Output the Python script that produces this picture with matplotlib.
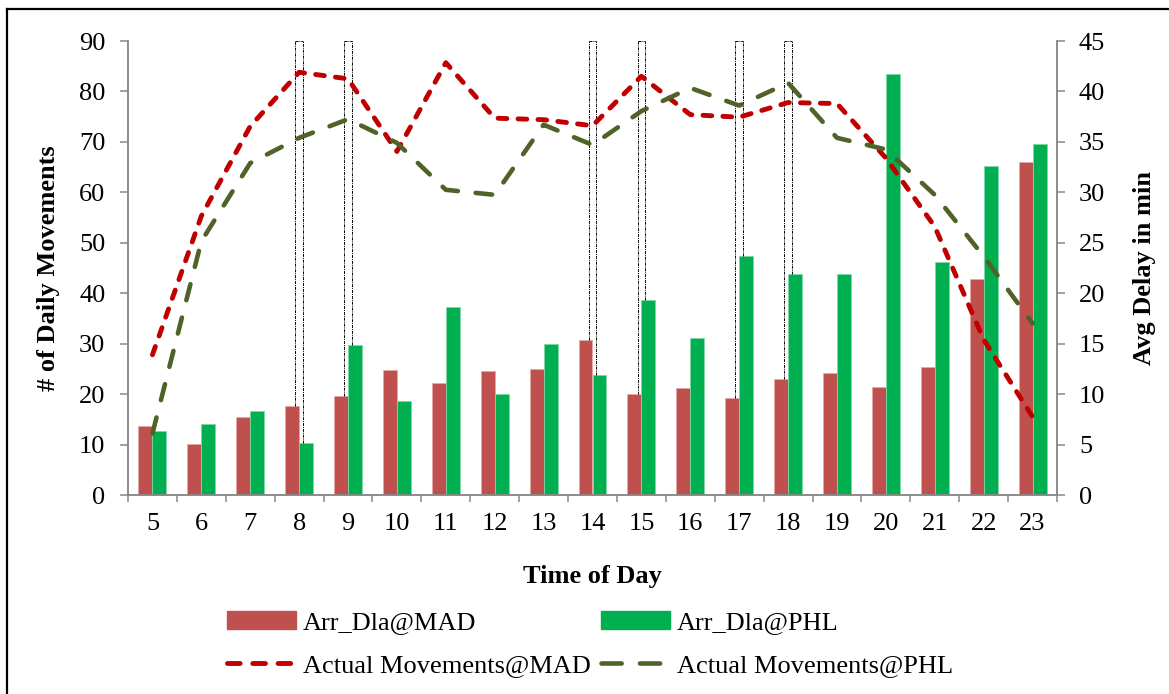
import matplotlib
matplotlib.use("Agg")
import matplotlib.pyplot as plt
from matplotlib.lines import Line2D
from matplotlib.patches import Patch

# data
hours = list(range(5, 24))
delay_mad = [6.8, 5.1, 7.7, 8.8, 9.8, 12.4, 11.1, 12.3, 12.5, 15.4, 10.0, 10.6, 9.6, 11.5, 12.1, 10.7, 12.7, 21.4, 33.0]
delay_phl = [6.3, 7.0, 8.3, 5.2, 14.9, 9.3, 18.6, 10.0, 15.0, 11.9, 19.3, 15.6, 23.7, 21.9, 21.9, 41.7, 23.1, 32.6, 34.8]
moves_mad = [27.8, 55.3, 73.1, 83.8, 82.5, 68.1, 85.7, 74.7, 74.4, 73.2, 83.0, 75.4, 74.9, 77.8, 77.6, 66.8, 53.2, 30.8, 15.5]
moves_phl = [12.2, 50.3, 65.8, 70.8, 74.5, 69.8, 60.5, 59.5, 73.4, 69.4, 76.1, 80.7, 77.2, 81.7, 70.8, 68.5, 59.5, 47.3, 34.0]
marked_hours = [8, 9, 14, 15, 17, 18]

plt.rcParams["font.family"] = ["Liberation Serif", "DejaVu Serif"]
grey = "#888888"

fig = plt.figure(figsize=(11.69, 6.94), dpi=100)
W, H = 1169, 694
ax = fig.add_axes([128 / W, 1 - 495 / H, (1057 - 128) / W, (495 - 41) / H])
ax2 = ax.twinx()
ax.set_zorder(ax2.get_zorder() + 1)
ax.patch.set_visible(False)

#bars (delay, right axis)
bw = 0.286
ax2.bar([h - bw / 2 for h in hours], delay_mad, width=bw, color="#C0504D", edgecolor="#E3A9A7", linewidth=0.6)
ax2.bar([h + bw / 2 for h in hours], delay_phl, width=bw, color="#00B050", edgecolor="#7FD8A7", linewidth=0.6)

#dotted marker boxes
for h in marked_hours:
    i = hours.index(h)
    xl, xr = h - 0.078, h + 0.078
    kw = dict(color="black", lw=0.7, linestyle=(0, (3, 1, 1, 1)), clip_on=False, zorder=1)
    ax2.plot([xl, xl], [delay_mad[i], 45], **kw)
    ax2.plot([xr, xr], [delay_phl[i], 45], **kw)
    ax2.plot([xl, xr], [45, 45], **kw)

#lines (movements, left axis)
mad_style = dict(color="#C00000", lw=3.5, linestyle=(0, (1.8, 2.3)), dash_capstyle="round")
phl_style = dict(color="#4F6228", lw=3.3, linestyle=(0, (3.6, 3.9)), dash_capstyle="round")
ax.plot(hours, moves_mad, **mad_style)
ax.plot(hours, moves_phl, **phl_style)

ax.set_xlim(4.5, 23.5)
ax.set_ylim(0, 90)
ax2.set_ylim(0, 45)
ax.set_yticks(range(0, 91, 10))
ax2.set_yticks(range(0, 46, 5))
ax.set_xticks(hours)
ax.set_xticks([h - 0.5 for h in hours] + [23.5], minor=True)

for a in (ax, ax2):
    for s in a.spines.values():
        s.set_color(grey)
        s.set_linewidth(1.1)
    a.spines["top"].set_visible(False)
ax.tick_params(axis="y", direction="out", length=5.8, width=1.1, color=grey, labelsize=19, pad=10.5)
ax2.tick_params(axis="y", direction="out", length=5.8, width=1.1, color=grey, labelsize=19, pad=10)
ax.tick_params(axis="x", which="major", length=0, labelsize=19, pad=13)
ax.tick_params(axis="x", which="minor", direction="out", length=5, width=1.1, color=grey)

ax.set_ylabel("# of Daily Movements", fontsize=19, fontweight="bold")
ax.yaxis.set_label_coords(-0.073, 0.5)
ax2.set_ylabel("Avg Delay in min", fontsize=19, fontweight="bold", rotation=90)
ax2.yaxis.set_label_coords(1.082, 0.5)
ax.set_xlabel("Time of Day", fontsize=19, fontweight="bold")
ax.xaxis.set_label_coords(0.4995, -0.154)

# legend handles use slightly longer dashes so they show 3 and 2 dashes like the original
handles = [Patch(color="#C0504D"),
           Line2D([], [], color="#C00000", lw=3.5, linestyle=(0, (2.6, 2.6)), dash_capstyle="round"),
           Patch(color="#00B050"),
           Line2D([], [], color="#4F6228", lw=3.3, linestyle=(0, (4.4, 4.0)), dash_capstyle="round")]
labels = ["Arr_Dla@MAD", "Actual Movements@MAD", "Arr_Dla@PHL", "Actual Movements@PHL"]
fig.legend(handles, labels, ncol=2, loc="upper left", bbox_to_anchor=(227 / W, 1 - 611 / H),
           frameon=False, fontsize=19, handlelength=2.6, handletextpad=0.27,
           columnspacing=0.4, labelspacing=0.72, borderpad=0, borderaxespad=0)

# outer frame (left and top edges)
fig.add_artist(Line2D([7 / W, 7 / W], [0, 1 - 9 / H], color="black", lw=1.6))
fig.add_artist(Line2D([7 / W, 1], [1 - 9 / H, 1 - 9 / H], color="black", lw=1.6))

fig.savefig("out.png", dpi=100)
